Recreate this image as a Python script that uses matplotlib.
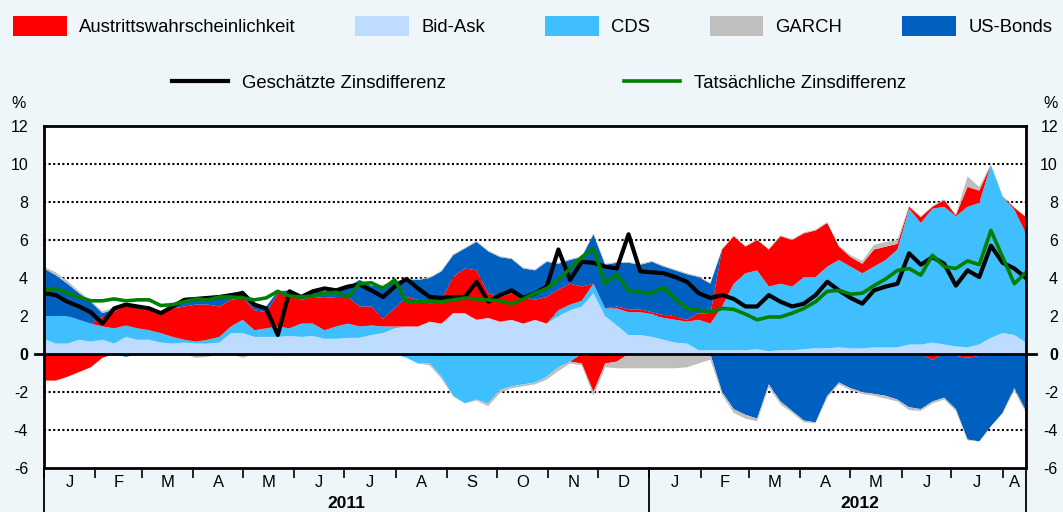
import matplotlib
matplotlib.use('Agg')
import matplotlib.pyplot as plt
import matplotlib.dates as mdates
import pandas as pd

plt.rcParams['font.family'] = ['Liberation Sans', 'DejaVu Sans']

# weekly readings, Jan 2011 - mid Aug 2012
dates = pd.date_range('2011-01-01', '2012-08-15', periods=85)

# positive contributions (percentage points)
bid_ask = [0.8, 0.55, 0.55, 0.75, 0.65, 0.75, 0.55, 0.9, 0.75, 0.75,
           0.6, 0.55, 0.6, 0.55, 0.55, 0.6, 1.1, 1.1, 0.9, 0.9,
           0.9, 0.95, 0.9, 0.95, 0.8, 0.8, 0.85, 0.85, 1.0, 1.1,
           1.35, 1.45, 1.45, 1.7, 1.6, 2.15, 2.15, 1.8, 1.9, 1.7,
           1.8, 1.6, 1.8, 1.6, 2.0, 2.3, 2.5, 3.2, 2.0, 1.5,
           1.0, 1.0, 0.9, 0.75, 0.6, 0.55, 0.2, 0.2, 0.2, 0.2,
           0.2, 0.25, 0.15, 0.2, 0.2, 0.25, 0.3, 0.3, 0.35, 0.3,
           0.3, 0.35, 0.35, 0.35, 0.5, 0.5, 0.6, 0.5, 0.4, 0.35,
           0.5, 0.85, 1.1, 1.0, 0.6]
cds_pos = [1.2, 1.45, 1.45, 1.05, 0.95, 0.7, 0.8, 0.6, 0.6, 0.5,
           0.5, 0.35, 0.15, 0.1, 0.2, 0.3, 0.35, 0.7, 0.35, 0.45,
           0.55, 0.4, 0.7, 0.65, 0.45, 0.65, 0.75, 0.6, 0.5, 0.35,
           0.1, 0, 0, 0, 0, 0, 0, 0, 0, 0,
           0, 0, 0, 0, 0.3, 0.3, 0.3, 0.5, 0.4, 0.9,
           1.2, 1.2, 1.2, 1.15, 1.2, 1.15, 1.6, 1.4, 2.3, 3.5,
           4.05, 4.15, 3.4, 3.5, 3.35, 3.8, 3.75, 4.3, 4.6, 4.3,
           3.95, 4.25, 4.6, 5.15, 7.15, 6.4, 7.05, 7.25, 6.85, 7.4,
           7.45, 9.1, 7.2, 6.6, 5.75]
exit_pos = [0, 0, 0, 0, 0, 0.5, 0.85, 1.1, 1.05, 1.05,
            1.1, 1.5, 1.75, 1.95, 1.85, 1.6, 1.4, 1.15, 1.05, 0.85,
            1.7, 1.85, 1.25, 1.4, 1.7, 1.55, 1.4, 1.05, 1.0, 0.4,
            0.95, 1.55, 1.4, 0.95, 1.25, 1.9, 2.35, 2.6, 1.3, 1.3,
            1.4, 1.4, 1.05, 1.4, 1.1, 1.1, 0.75, 0, 0, 0.1,
            0.15, 0.15, 0.1, 0.15, 0.2, 0.1, 0.35, 0.5, 3.0, 2.5,
            1.4, 1.6, 1.95, 2.5, 2.45, 2.3, 2.45, 2.3, 0.7, 0.5,
            0.5, 0.9, 0.7, 0.3, 0.1, 0.3, 0.1, 0.35, 0.05, 1.05,
            0.65, 0, 0, 0.1, 0.85]
bonds_pos = [2.5, 2.15, 1.7, 1.4, 1.15, 0.2, 0.15, 0, 0.1, 0.2,
             0, 0.2, 0.4, 0.4, 0.4, 0.6, 0.25, 0.4, 0.35, 0.3,
             0.15, 0.15, 0.25, 0.3, 0.35, 0.35, 0.55, 1.4, 1.1, 1.75,
             1.4, 0.9, 1.05, 1.35, 1.5, 1.15, 1.05, 1.5, 2.2, 2.1,
             1.8, 1.5, 1.55, 1.85, 1.35, 1.25, 1.55, 2.6, 2.3, 2.3,
             2.45, 2.35, 2.65, 2.55, 2.4, 2.4, 1.9, 1.6, 0, 0,
             0, 0, 0, 0, 0, 0, 0, 0, 0, 0,
             0, 0, 0, 0, 0, 0, 0, 0, 0, 0,
             0, 0, 0, 0, 0]
garch_pos = [0.1, 0.15, 0.15, 0.1, 0.05, 0.1, 0.1, 0.05, 0, 0,
             0, 0, 0.05, 0, 0, 0, 0, 0, 0, 0,
             0, 0, 0, 0, 0, 0, 0, 0, 0, 0.05,
             0.05, 0.05, 0.05, 0.05, 0.05, 0.05, 0.05, 0.05, 0.05, 0.05,
             0.05, 0.05, 0.05, 0.05, 0.05, 0.05, 0.05, 0.05, 0.05, 0.05,
             0.05, 0.05, 0.05, 0.05, 0.05, 0.05, 0.05, 0.05, 0.05, 0.05,
             0.05, 0.05, 0.05, 0.05, 0.05, 0.05, 0.05, 0.05, 0.05, 0.1,
             0.15, 0.25, 0.25, 0.2, 0.05, 0.05, 0.05, 0.05, 0.05, 0.55,
             0.2, 0.05, 0, 0, 0]

# negative contributions
cds_neg = [0, 0, 0, 0, 0, 0, 0, 0, 0, 0,
           0, 0, 0, 0, 0, 0, 0, 0, 0, 0,
           -0.1, 0, 0, 0, 0, 0, 0, 0, 0, 0,
           0, -0.2, -0.5, -0.5, -1.2, -2.2, -2.6, -2.4, -2.6, -1.9,
           -1.7, -1.6, -1.5, -1.2, -0.7, -0.4, 0, 0, 0, 0,
           0, 0, 0, 0, 0, 0, 0, 0, 0, 0,
           0, 0, 0, 0, 0, 0, 0, 0, 0, 0,
           0, 0, 0, 0, 0, 0, 0, 0, 0, 0,
           0, 0, 0, 0, 0]
exit_neg = [-1.4, -1.4, -1.2, -0.95, -0.7, -0.2, 0, 0, 0, 0,
            0, 0, 0, 0, 0, 0, 0, 0, 0, 0,
            0, 0, 0, 0, 0, 0, 0, 0, 0, 0,
            0, 0, 0, 0, 0, 0, 0, 0, 0, 0,
            0, 0, 0, 0, 0, 0, -0.5, -2.0, -0.5, -0.4,
            0, 0, 0, 0, 0, 0, 0, 0, 0, 0,
            0, 0, 0, 0, 0, 0, 0, 0, 0, 0,
            0, 0, 0, 0, 0, 0, -0.3, 0, -0.1, -0.2,
            -0.1, 0, -0.1, 0, 0]
bonds_neg = [0, 0, 0, 0, 0, 0, 0, -0.15, 0, 0,
             0, 0, 0, 0, 0, 0, 0, 0, 0, 0,
             0, 0, 0, 0, 0, 0, 0, 0, 0, 0,
             0, 0, 0, 0, 0, 0, 0, 0, 0, 0,
             0, 0, 0, 0, 0, 0, 0, 0, 0, 0,
             0, 0, 0, 0, 0, 0, 0, 0, -2.0, -2.9,
             -3.2, -3.4, -1.6, -2.5, -3.0, -3.5, -3.6, -2.2, -1.5, -1.8,
             -2.0, -2.1, -2.2, -2.4, -2.8, -2.9, -2.2, -2.3, -2.8, -4.3,
             -4.5, -3.8, -3.0, -1.8, -3.0]
garch_neg = [0, 0, 0, 0, 0, 0, 0, 0, 0, 0,
             0, 0, 0, -0.2, -0.15, 0, 0, -0.2, 0, 0,
             0, 0, 0, 0, 0, 0, 0, 0, 0, 0,
             0, 0, 0, -0.1, -0.1, -0.05, 0, -0.05, -0.15, -0.15,
             -0.1, -0.1, -0.1, -0.15, -0.2, -0.1, -0.1, -0.2, -0.2, -0.35,
             -0.75, -0.75, -0.75, -0.75, -0.75, -0.7, -0.5, -0.3, -0.15, -0.2,
             -0.2, -0.15, -0.15, -0.15, -0.1, -0.1, -0.05, -0.1, -0.1, -0.1,
             -0.1, -0.1, -0.15, -0.1, -0.15, -0.1, -0.1, -0.1, -0.1, -0.05,
             0, 0, 0, -0.15, -0.1]

# estimated and actual spread
estimated = [3.2, 3.1, 2.75, 2.5, 2.2, 1.6, 2.4, 2.6, 2.5, 2.4,
             2.15, 2.5, 2.85, 2.9, 2.95, 3.0, 3.1, 3.2, 2.6, 2.4,
             1.0, 3.3, 3.0, 3.3, 3.45, 3.35, 3.55, 3.65, 3.35, 3.0,
             3.55, 3.95, 3.45, 3.0, 2.95, 3.0, 3.0, 3.8, 2.75, 3.1,
             3.35, 2.95, 3.2, 3.55, 5.5, 3.9, 4.85, 4.8, 4.6, 4.5,
             6.3, 4.35, 4.3, 4.25, 4.05, 3.8, 3.2, 2.95, 3.1, 2.9,
             2.5, 2.5, 3.1, 2.75, 2.5, 2.65, 3.1, 3.8, 3.35, 2.95,
             2.65, 3.35, 3.55, 3.7, 5.3, 4.7, 5.1, 4.75, 3.6, 4.4,
             4.05, 5.7, 4.8, 4.5, 4.0]
actual = [3.35, 3.45, 3.2, 3.0, 2.8, 2.8, 2.9, 2.8, 2.85, 2.85,
          2.55, 2.6, 2.75, 2.9, 2.85, 3.0, 3.0, 2.95, 2.85, 2.95,
          3.3, 3.05, 3.0, 3.05, 3.2, 3.25, 3.0, 3.7, 3.75, 3.45,
          3.9, 2.75, 2.75, 2.75, 2.75, 2.85, 2.95, 2.9, 2.85, 2.8,
          2.65, 2.9, 3.2, 3.45, 3.9, 4.5, 5.1, 5.55, 3.7, 4.2,
          3.35, 3.25, 3.2, 3.5, 2.9, 2.4, 2.3, 2.2, 2.4, 2.35,
          2.1, 1.8, 1.95, 1.95, 2.15, 2.4, 2.75, 3.3, 3.35, 3.15,
          3.2, 3.6, 3.95, 4.4, 4.5, 4.15, 5.2, 4.6, 4.5, 4.9,
          4.7, 6.5, 5.1, 3.7, 4.3]

month_letters = list('JFMAMJJASOND') + list('JFMAMJJA')
y_ticks = [-6, -4, -2, 0, 2, 4, 6, 8, 10, 12]

c_exit, c_ba, c_cds, c_garch, c_bonds = '#FF0000', '#BDDCFF', '#40BFFF', '#BFBFBF', '#0060BF'

x = mdates.date2num(dates.to_pydatetime())

fig = plt.figure(figsize=(10.63, 5.12), dpi=100, facecolor='#EEF6FA')
ax = fig.add_axes([44 / 1063, 1 - 468 / 512, 982 / 1063, 342 / 512])
ax.set_facecolor('white')

polys = ax.stackplot(x, bid_ask, cds_pos, exit_pos, bonds_pos, garch_pos,
                     colors=[c_ba, c_cds, c_exit, c_bonds, c_garch],
                     labels=['Bid-Ask', 'CDS', 'Austrittswahrscheinlichkeit', 'US-Bonds', 'GARCH'],
                     lw=0, zorder=2)
ax.stackplot(x, cds_neg, exit_neg, bonds_neg, garch_neg,
             colors=[c_cds, c_exit, c_bonds, c_garch], lw=0, zorder=2)

l_est, = ax.plot(x, estimated, color='black', lw=3, zorder=5, label='Geschätzte Zinsdifferenz')
l_act, = ax.plot(x, actual, color='#008000', lw=2.6, zorder=6, label='Tatsächliche Zinsdifferenz')

for y in y_ticks[1:]:
    if y not in (0, 12):
        ax.axhline(y, color='black', lw=1.5, ls=(0, (1, 1.2)), zorder=1)
ax.plot([-0.009, 1.01], [0, 0], transform=ax.get_yaxis_transform(), color='black',
        lw=2, clip_on=False, zorder=7)

ax.set_xlim(x[0], x[-1])
ax.set_ylim(-6, 12)
for s in ax.spines.values():
    s.set_linewidth(2)
    s.set_zorder(8)

# y labels on both sides
ylabels = [str(v) for v in y_ticks]
ax.set_yticks(y_ticks, labels=ylabels)
ax.tick_params(axis='y', length=0, pad=11.5, labelsize=11.5)
ax2 = ax.twinx()
ax2.set_ylim(-6, 12)
ax2.set_yticks(y_ticks, labels=ylabels)
ax2.tick_params(axis='y', length=0, pad=23, labelsize=11.5)
for lbl in ax2.get_yticklabels():
    lbl.set_ha('right')
for a in (ax, ax2):
    for lbl in a.get_yticklabels():
        if lbl.get_text() == '0':
            lbl.set_fontweight('bold')
ax2.spines[:].set_visible(False)

# months along the bottom
month_starts = pd.date_range('2011-01-01', '2012-08-01', freq='MS')
edges = list(month_starts) + [dates[-1]]
centers = [edges[k] + (edges[k + 1] - edges[k]) / 2 for k in range(len(month_starts))]
ax.set_xticks(mdates.date2num([c.to_pydatetime() for c in centers]), labels=month_letters)
ax.set_xticks(mdates.date2num(month_starts.to_pydatetime()), minor=True)
ax.tick_params(axis='x', which='major', length=0, pad=5, labelsize=12)
ax.tick_params(axis='x', which='minor', length=7, width=1.2, direction='out')

for d in ['2011-01-01', '2012-01-01', '2012-08-15']:
    ax.axvline(mdates.datestr2num(d), ymin=-0.13, ymax=0, color='black', lw=1.3, clip_on=False)
ax.text(mdates.datestr2num('2011-07-02'), -0.126, '2011', transform=ax.get_xaxis_transform(),
        ha='center', va='bottom', fontsize=12.5, fontweight='bold')
ax.text(mdates.datestr2num('2012-05-07'), -0.126, '2012', transform=ax.get_xaxis_transform(),
        ha='center', va='bottom', fontsize=12.5, fontweight='bold')

fig.text(19 / 1063, 1 - 103 / 512, '%', ha='center', va='center', fontsize=11.5)
fig.text(1051 / 1063, 1 - 103 / 512, '%', ha='center', va='center', fontsize=11.5)

# legends
handles = [polys[2], polys[0], polys[1], polys[4], polys[3]]
fig.legend(handles=handles, loc='center left', bbox_to_anchor=(13 / 1063, 1 - 26 / 512),
           ncol=5, frameon=False, fontsize=13.3, borderpad=0, borderaxespad=0,
           handlelength=2.9, handleheight=1.27, handletextpad=0.66, columnspacing=3.25)
fig.legend(handles=[l_est, l_act], loc='center left', bbox_to_anchor=(172 / 1063, 1 - 83 / 512),
           ncol=2, frameon=False, fontsize=13.3, borderpad=0, borderaxespad=0,
           handlelength=3.05, handletextpad=0.76, columnspacing=9.6)

fig.savefig('out.png', dpi=100, facecolor=fig.get_facecolor())
